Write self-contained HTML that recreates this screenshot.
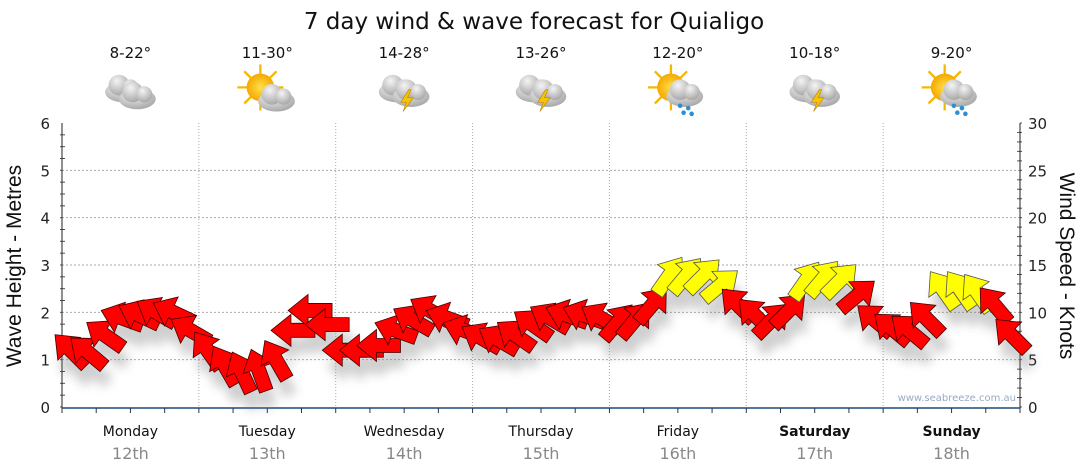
<!DOCTYPE html>
<html><head><meta charset="utf-8">
<style>
body{margin:0;background:#fff;}
svg{display:block;font-family:"DejaVu Sans","Liberation Sans",sans-serif;}
</style></head>
<body>
<svg id="chart" width="1080" height="475" viewBox="0 0 1080 475">
<defs>
<filter id="sh" x="-50%" y="-50%" width="200%" height="200%"><feGaussianBlur stdDeviation="5"/></filter>
<radialGradient id="cg" cx="40%" cy="30%" r="70%"><stop offset="0" stop-color="#f4f4f4"/><stop offset="1" stop-color="#a9a9a9"/></radialGradient>
<radialGradient id="sg" cx="50%" cy="50%" r="50%"><stop offset="0" stop-color="#ffe04a"/><stop offset="1" stop-color="#f5a800"/></radialGradient>
<g id="cloud"><ellipse cx="0" cy="4" rx="16" ry="9" fill="url(#cg)"/><circle cx="-4" cy="-2" r="9" fill="url(#cg)"/><circle cx="6" cy="0" r="7" fill="url(#cg)"/></g>
<g id="sun"><g stroke="#f5b800" stroke-width="2"><line x1="-20" y1="0" x2="20" y2="0"/><line x1="0" y1="-20" x2="0" y2="20"/><line x1="-14" y1="-14" x2="14" y2="14"/><line x1="-14" y1="14" x2="14" y2="-14"/></g><circle r="12" fill="url(#sg)"/></g>
<g id="bolt"><polygon points="2,-8 -5,3 0,3 -3,11 6,-1 1,-1 4,-8" fill="#f5c400" stroke="#c08000" stroke-width="0.5"/></g>
<g id="rain" fill="#2a8fd8"><circle cx="-4" cy="0" r="2"/><circle cx="3" cy="2" r="2"/><circle cx="-1" cy="6" r="2"/><circle cx="6" cy="7" r="2"/></g>
</defs>
<text x="534" y="29" text-anchor="middle" font-size="23" fill="#111">7 day wind &amp; wave forecast for Quialigo</text>
<g id="header"></g>
<g id="grid"></g>
<g id="axes"></g>
<text x="1016" y="401" text-anchor="end" font-size="10" fill="#9aaac0">www.seabreeze.com.au</text>
<g id="marks"></g>
<text transform="translate(21,266) rotate(-90)" text-anchor="middle" font-size="21" font-family="Liberation Sans, sans-serif" fill="#111">Wave Height - Metres</text>
<text transform="translate(1060,266) rotate(90)" text-anchor="middle" font-size="21" font-family="Liberation Sans, sans-serif" fill="#111">Wind Speed - Knots</text>
</svg>
<script>
const days = ["Monday","Tuesday","Wednesday","Thursday","Friday","Saturday","Sunday"];
const dates = ["12th","13th","14th","15th","16th","17th","18th"];
const temps = ["8-22°","11-30°","14-28°","13-26°","12-20°","10-18°","9-20°"];
const icons = ["cloudy","sunny-cloud","storm","storm","sun-rain","storm","sun-rain"];
const waveTicks = [0,1,2,3,4,5,6];
const windTicks = [0,5,10,15,20,25,30];
const windKnots = [
 6.0,5.8,7.6,9.4,9.7,10.0,10.0,8.1,
 6.0,4.4,3.7,3.9,5.0,8.1,10.2,8.7,
 6.0,6.0,6.5,8.1,9.2,10.2,9.4,8.1,
 7.3,7.1,7.6,8.7,9.4,9.7,9.7,9.4,
 9.0,9.2,10.8,13.9,13.9,13.9,12.9,10.8,
 9.7,9.2,10.2,13.4,13.6,13.4,11.8,9.2,
 8.3,8.1,9.4,12.4,12.4,12.1,10.8,7.6];
const windDir = [
 -135,-140,-145,-160,-155,-150,-155,-150,
 -125,-120,-115,-110,-120,180,180,180,
 180,180,180,-160,-150,-150,-160,-160,
 -150,-150,-145,-145,-150,-160,-160,-150,
 -50,-50,-50,-55,-50,-45,-40,-135,
 -135,-45,-45,-55,-50,-45,-40,-140,
 -140,-140,-135,-125,-125,-125,-130,-135];

const NS="http://www.w3.org/2000/svg";
const X0=62,X1=1020,Y0=407,Y1=123;
const dayW=(X1-X0)/7;
function xT(i){return X0+(i+0.5)*dayW/8;}
function yWave(v){return Y0-(v/6)*(Y0-Y1);}
function yWind(v){return Y0-(v/30)*(Y0-Y1);}
function mk(tag,attrs,parent){const e=document.createElementNS(NS,tag);for(const k in attrs)e.setAttribute(k,attrs[k]);parent.appendChild(e);return e;}

const header=document.getElementById('header');
const grid=document.getElementById('grid');
const axes=document.getElementById('axes');
const marks=document.getElementById('marks');

days.forEach((d,i)=>{
  const cx=X0+(i+0.5)*dayW;
  const t=mk('text',{x:cx,y:58,'text-anchor':'middle','font-size':15,fill:'#111'},header);
  
  
  t.textContent=temps[i];
  const g=mk('g',{transform:`translate(${cx},92) scale(1.15)`},header);
  
  
  const ic=icons[i];
  if(ic==='cloudy'){mk('use',{href:'#cloud',x:-6,y:-4},g);mk('use',{href:'#cloud',x:6,y:2},g);}
  else if(ic==='sunny-cloud'){mk('use',{href:'#sun',x:-6,y:-4},g);mk('use',{href:'#cloud',x:8,y:4},g);}
  else if(ic==='storm'){mk('use',{href:'#cloud',x:-6,y:-4},g);mk('use',{href:'#cloud',x:6,y:0},g);mk('use',{href:'#bolt',x:2,y:6},g);}
  else {mk('use',{href:'#sun',x:-6,y:-4},g);mk('use',{href:'#cloud',x:6,y:0},g);mk('use',{href:'#rain',x:6,y:12},g);}
  const dn=mk('text',{x:cx,y:436,'text-anchor':'middle','font-size':14,fill:'#111','font-weight':i>=5?'bold':'normal'},axes);
  
  
  dn.textContent=d;
  const dt=mk('text',{x:cx,y:459,'text-anchor':'middle','font-size':16,fill:'#888'},axes);
  
  
  dt.textContent=dates[i];
  if(i>0){const l=mk('line',{x1:X0+i*dayW,x2:X0+i*dayW,y1:Y1,y2:Y0,stroke:'#aaa','stroke-dasharray':'1,2'},grid);
    
    }
});
waveTicks.forEach(v=>{
  const y=yWave(v);
  if(v>0&&v<6){const l=mk('line',{x1:X0,x2:X1,y1:y,y2:y,stroke:'#aaa','stroke-dasharray':'2,2'},grid);
    
    }
  const t=mk('text',{x:50,y:y+6,'text-anchor':'end','font-size':15,fill:'#222'},axes);
  
  
  t.textContent=v;
});
for(let k=0;k<24;k++){const y=yWave(k/4);mk('line',{x1:X0-2,x2:X0+(k%4?3:0),y1:y,y2:y,stroke:'#555'},axes);}
for(let k=0;k<=30;k++){const y=yWind(k);mk('line',{x1:X1-(k%5?3:0),x2:X1+2,y1:y,y2:y,stroke:'#555'},axes);}
windTicks.forEach(v=>{
  const t=mk('text',{x:1028,y:yWind(v)+6,'font-size':15,fill:'#222'},axes);
  
  
  t.textContent=v;
});
mk('line',{x1:X0,x2:X0,y1:Y1,y2:Y0+1,stroke:'#222'},axes);
mk('line',{x1:X1,x2:X1,y1:Y1,y2:Y0+1,stroke:'#222'},axes);
mk('line',{x1:X0,x2:X1,y1:Y0+1,y2:Y0+1,stroke:'#1a4a7a','stroke-width':1.5},axes);
for(let k=0;k<=28;k++){const x=X0+k*dayW/4;mk('line',{x1:x,x2:x,y1:Y0+1,y2:Y0+6,stroke:'#333'},axes);}

const shape="22,0 2,-16 2,-7 -22,-7 -22,7 2,7 2,16";
const shadows=mk('g',{filter:'url(#sh)',opacity:0.35},marks);
windKnots.forEach((v,i)=>{
  const x=xT(i), y=yWind(v), a=windDir[i];
  mk('polygon',{points:shape,transform:`translate(${x+4},${y+16}) rotate(${a})`,fill:'#777'},shadows);
});
windKnots.forEach((v,i)=>{
  const x=xT(i), y=yWind(v), a=windDir[i];
  const p=mk('polygon',{points:shape,transform:`translate(${x},${y}) rotate(${a})`,fill:v>=12?'#ffff00':'#ff0000',stroke:v>=12?'#555':'#400','stroke-width':0.8},marks);
  
  
});
</script>
</body></html>
